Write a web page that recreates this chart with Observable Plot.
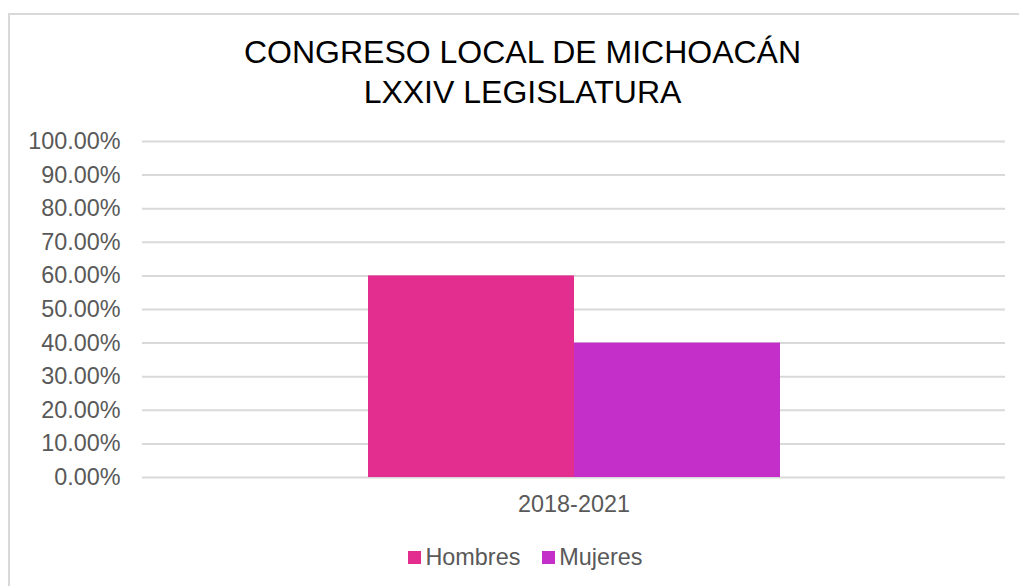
<!DOCTYPE html>
<html>
<head>
<meta charset="utf-8">
<script src="https://cdn.jsdelivr.net/npm/d3@7"></script>
<script src="https://cdn.jsdelivr.net/npm/@observablehq/plot@0.6"></script>
<style>
  html, body { margin: 0; padding: 0; background: #fff; }
  #wrap { position: relative; width: 1019px; height: 586px; overflow: hidden; font-family: Arial, "Liberation Sans", sans-serif; }
  #frame { position: absolute; left: 8px; top: 13px; width: 1100px; height: 700px; border: 2px solid #d9d9d9; box-sizing: border-box; }
  #title { position: absolute; left: 0; top: 32px; width: 1045px; text-align: center; font-size: 32px; line-height: 40px; color: #000; }
  #chart { position: absolute; left: 0; top: 112px; }
  #legend { position: absolute; left: 0; top: 544px; width: 1019px; display: flex; justify-content: center; gap: 22px; font-size: 23.4px; color: #595959; padding-left: 32px; box-sizing: border-box; }
  .item { display: flex; align-items: center; gap: 4px; }
  .sw { width: 13px; height: 13px; display: inline-block; }
</style>
</head>
<body>
<div id="wrap">
  <div id="frame"></div>
  <div id="title">CONGRESO LOCAL DE MICHOACÁN<br>LXXIV LEGISLATURA</div>
  <div id="chart"></div>
  <div id="legend"></div>
</div>
<script>
const periods = ["2018-2021"];
const series = ["Hombres", "Mujeres"];
const values = [0.60, 0.40];
const colors = ["#e32d8f", "#c52fc9"];
const yTicks = [0, 0.1, 0.2, 0.3, 0.4, 0.5, 0.6, 0.7, 0.8, 0.9, 1.0];

const data = series.map((s, i) => ({period: periods[0], serie: s, value: values[i]}));

const chart = Plot.plot({
  width: 1019,
  height: 418,
  marginTop: 29,
  marginBottom: 53,
  marginLeft: 142,
  marginRight: 14,
  style: {fontFamily: 'Arial, "Liberation Sans", sans-serif', fontSize: "23.4px", color: "#595959", background: "transparent"},
  fx: {domain: periods, padding: 0, label: null, axis: "bottom", tickSize: 0, tickPadding: 18},
  x: {domain: series, axis: null, paddingInner: 0, paddingOuter: 1.09},
  y: {domain: [0, 1], ticks: yTicks, tickFormat: d3.format(".2%"), label: null, tickSize: 0, tickPadding: 22},
  color: {domain: series, range: colors},
  marks: [
    Plot.gridY(yTicks, {stroke: "#d9d9d9", strokeOpacity: 1, strokeWidth: 2}),
    Plot.axisY({ticks: yTicks, tickFormat: d3.format(".2%"), tickSize: 0, tickPadding: 22, label: null, fill: "#595959"}),
    Plot.barY(data, {fx: "period", x: "serie", y: "value", fill: "serie", inset: 0})
  ]
});
document.getElementById("chart").appendChild(chart);

const legend = document.getElementById("legend");
series.forEach((s, i) => {
  const it = document.createElement("div");
  it.className = "item";
  const sw = document.createElement("span");
  sw.className = "sw";
  sw.style.background = colors[i];
  const t = document.createElement("span");
  t.textContent = s;
  it.appendChild(sw); it.appendChild(t);
  legend.appendChild(it);
});
</script>
</body>
</html>
